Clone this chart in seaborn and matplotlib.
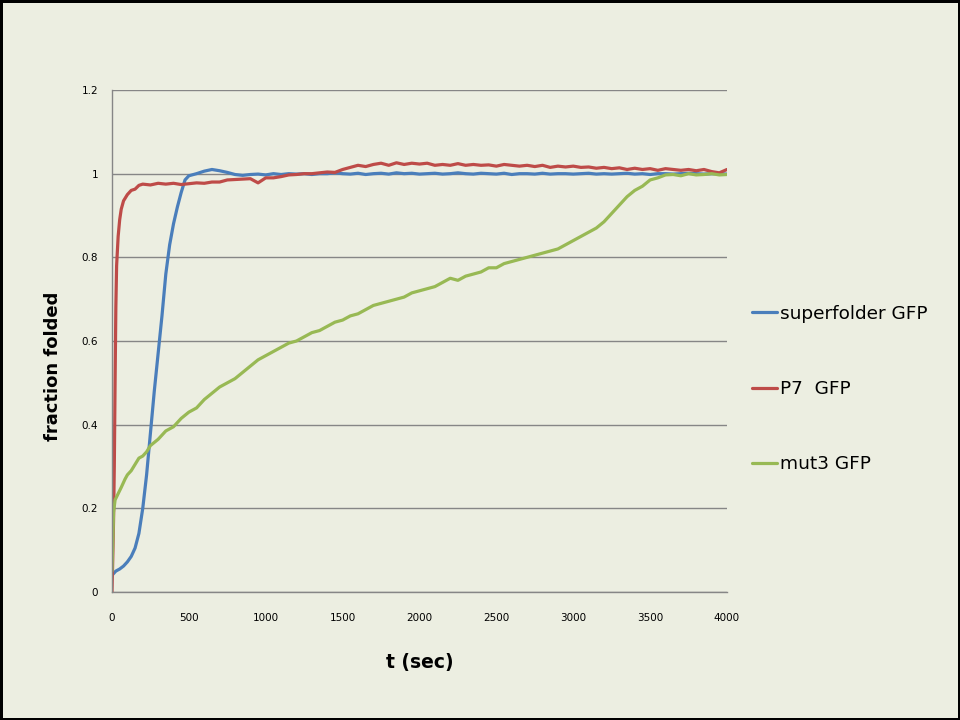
import matplotlib
matplotlib.use("Agg")
import matplotlib.pyplot as plt
import numpy as np
import pandas as pd
import seaborn as sns

# superfolder GFP
t_sf = [0, 25, 50, 75, 100, 125, 150, 175, 200, 225, 250, 275, 300, 325, 350, 375, 400, 425, 450, 475, 500] + list(range(550, 4001, 50))
y_sf = [0.04, 0.05, 0.055, 0.062, 0.072, 0.085, 0.105, 0.14, 0.20, 0.28, 0.38, 0.48, 0.57, 0.66, 0.76, 0.83, 0.88, 0.92, 0.955, 0.985, 0.995,
        1.0, 1.006, 1.01, 1.007, 1.003, 0.998, 0.996, 0.998, 0.999, 0.997, 1.0, 0.998, 1.0, 0.999, 1.0, 0.998, 1.0, 1.0, 1.002, 1.0,
        0.999, 1.001, 0.998, 1.0, 1.001, 0.999, 1.002, 1.0, 1.001, 0.999, 1.0, 1.001, 0.999, 1.0, 1.002, 1.0, 0.999, 1.001, 1.0,
        0.999, 1.001, 0.998, 1.0, 1.0, 0.999, 1.001, 0.999, 1.0, 1.0, 0.999, 1.0, 1.001, 0.999, 1.0, 0.999, 1.0, 1.001, 0.999, 1.0,
        0.998, 1.0, 1.0, 0.999, 1.0, 1.001, 1.0, 0.999, 1.0, 1.0, 0.999]

# P7 GFP
t_p7 = [0, 5, 10, 15, 20, 25, 30, 40, 50, 60, 75, 100, 125, 150, 175] + list(range(200, 4001, 50))
y_p7 = [0.0, 0.08, 0.17, 0.30, 0.50, 0.68, 0.78, 0.85, 0.89, 0.915, 0.935, 0.95, 0.96, 0.963, 0.972,
        0.975, 0.973, 0.977, 0.975, 0.977, 0.974, 0.976, 0.978, 0.977, 0.98, 0.98, 0.985, 0.986, 0.987, 0.988, 0.978,
        0.99, 0.99, 0.993, 0.997, 0.998, 1.0, 1.0, 1.002, 1.004, 1.003, 1.01, 1.015, 1.02, 1.017, 1.022, 1.025,
        1.02, 1.026, 1.022, 1.025, 1.023, 1.025, 1.02, 1.022, 1.02, 1.024, 1.02, 1.022, 1.02, 1.021, 1.018, 1.022,
        1.02, 1.018, 1.02, 1.017, 1.02, 1.015, 1.018, 1.016, 1.018, 1.015, 1.016, 1.013, 1.015, 1.012, 1.014, 1.01,
        1.013, 1.01, 1.012, 1.008, 1.012, 1.01, 1.008, 1.01, 1.007, 1.01, 1.005, 1.002, 1.01]

# mut3 GFP
t_m3 = [0, 5, 10, 20, 40, 60, 85, 100, 125, 150, 175, 200, 225, 250] + list(range(300, 4001, 50))
y_m3 = [0.05, 0.12, 0.19, 0.22, 0.235, 0.25, 0.27, 0.28, 0.29, 0.305, 0.32, 0.325, 0.335, 0.35,
        0.365, 0.385, 0.395, 0.415, 0.43, 0.44, 0.46, 0.475, 0.49, 0.50, 0.51, 0.525, 0.54, 0.555, 0.565,
        0.575, 0.585, 0.595, 0.60, 0.61, 0.62, 0.625, 0.635, 0.645, 0.65, 0.66, 0.665, 0.675, 0.685, 0.69,
        0.695, 0.70, 0.705, 0.715, 0.72, 0.725, 0.73, 0.74, 0.75, 0.745, 0.755, 0.76, 0.765, 0.775, 0.775,
        0.785, 0.79, 0.795, 0.80, 0.805, 0.81, 0.815, 0.82, 0.83, 0.84, 0.85, 0.86, 0.87, 0.885, 0.905,
        0.925, 0.945, 0.96, 0.97, 0.985, 0.99, 0.997, 0.998, 0.995, 1.0, 0.997, 0.998, 1.0, 0.997, 0.998]

SERIES = [("superfolder GFP", t_sf, y_sf, "#4A7EBB"),
          ("P7  GFP", t_p7, y_p7, "#BE4B48"),
          ("mut3 GFP", t_m3, y_m3, "#98B954")]

BG = "#ECEEE1"
sns.set_style("white")
plt.rcParams["font.family"] = ["DejaVu Sans"]
plt.rcParams.update({"text.color": "black", "axes.labelcolor": "black",
                     "xtick.color": "black", "ytick.color": "black"})

fig = plt.figure(figsize=(9.6, 7.2), dpi=100, facecolor=BG)
fig.patch.set_edgecolor("black")
fig.patch.set_linewidth(2.5)
ax = fig.add_axes([112 / 960, 1 - 592 / 720, 615 / 960, 502 / 720])
ax.set_facecolor(BG)

for name, t, y, color in SERIES:
    sns.lineplot(x=t, y=y, ax=ax, color=color, lw=2.3, label=name)

ax.set_xlim(0, 4000)
ax.set_ylim(0, 1.2)
ax.set_xticks(np.arange(0, 4001, 500))
ax.set_yticks(np.arange(0, 1.21, 0.2))
ax.set_yticklabels(["0", "0.2", "0.4", "0.6", "0.8", "1", "1.2"])
ax.yaxis.grid(True, color="#868686", lw=1)
ax.xaxis.grid(False)
for s in ["top", "right"]:
    ax.spines[s].set_visible(False)
for s in ["left", "bottom"]:
    ax.spines[s].set_color("#868686")
    ax.spines[s].set_linewidth(1)
ax.tick_params(axis="both", direction="out", length=5, width=1, color="#868686",
               labelsize=7.5, labelcolor="black")
ax.tick_params(axis="x", pad=10)
ax.tick_params(axis="y", pad=5)
ax.set_xlabel("t (sec)", fontsize=13.5, fontweight="bold", labelpad=22)
ax.set_ylabel("fraction folded", fontsize=13, fontweight="heavy")
ax.yaxis.set_label_coords(-0.081, 0.45)

ax.legend_.remove()
handles, labels = ax.get_legend_handles_labels()
fig.legend(handles, labels, loc="center left", bbox_to_anchor=(735 / 960, 1 - 389 / 720),
           frameon=False, fontsize=13.3, labelspacing=3.1, handlelength=1.4, handletextpad=0.15)

fig.savefig("out.png", dpi=100, facecolor=BG, edgecolor="black")
